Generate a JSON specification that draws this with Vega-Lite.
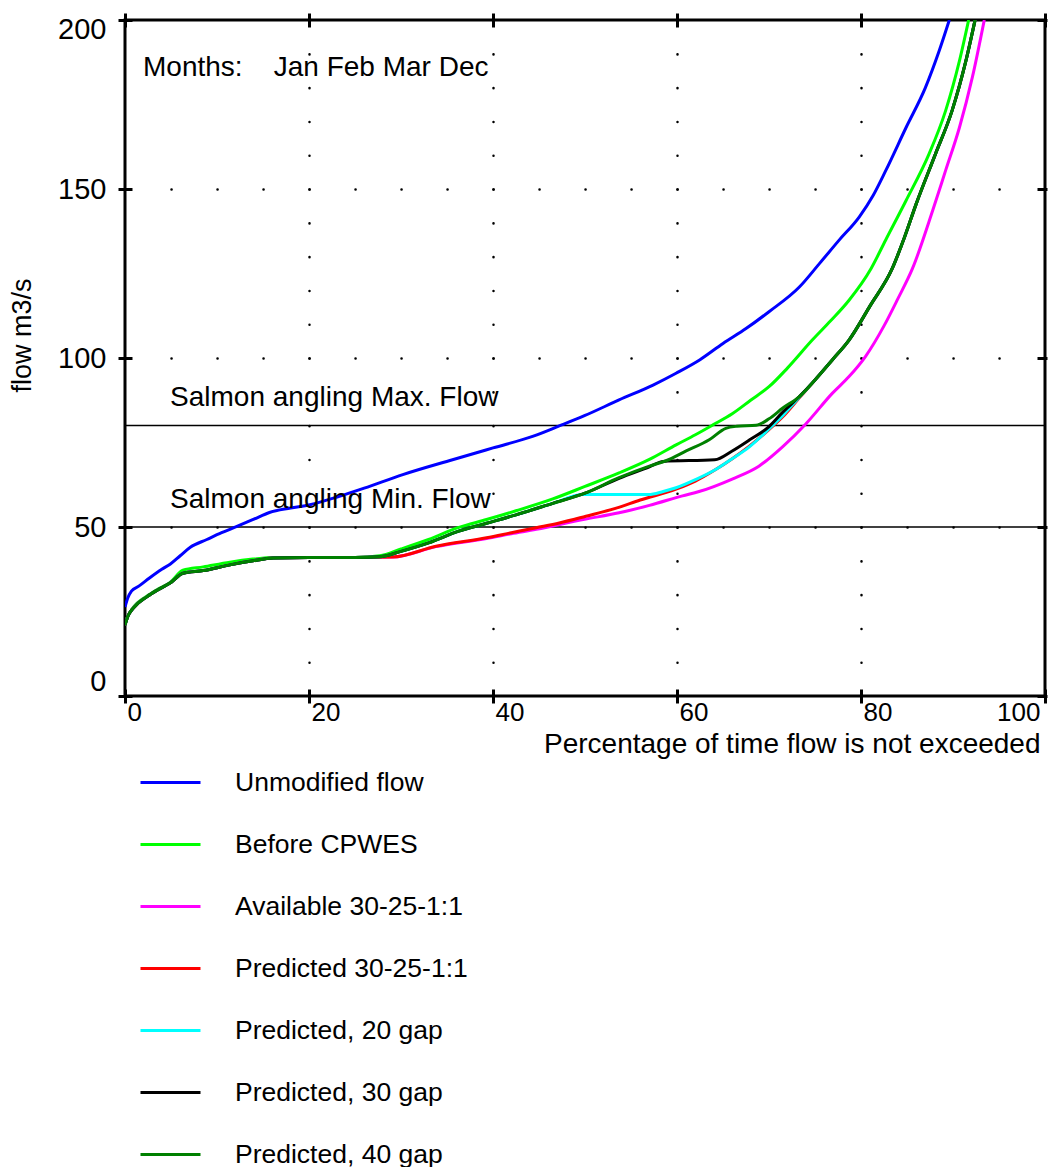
{
  "$schema": "https://vega.github.io/schema/vega-lite/v6.json",
  "width": 920,
  "height": 676,
  "autosize": {"type": "none"},
  "padding": {"left": 125, "top": 20, "right": 4, "bottom": 471},
  "background": "white",
  "config": {
    "font": "Liberation Sans",
    "view": {"stroke": "black", "strokeWidth": 3},
    "axis": {"domain": false, "labelColor": "black", "titleColor": "black", "tickColor": "black", "tickWidth": 3, "grid": false, "labelFont": "Liberation Sans", "titleFont": "Liberation Sans", "titleFontWeight": "normal"}
  },
  "datasets": {
    "curves": [
      {"series": "Unmodified flow", "pct": 0, "flow": 26.3},
      {"series": "Unmodified flow", "pct": 0.3, "flow": 29},
      {"series": "Unmodified flow", "pct": 0.7, "flow": 31},
      {"series": "Unmodified flow", "pct": 1.5, "flow": 32.5},
      {"series": "Unmodified flow", "pct": 2.7, "flow": 35},
      {"series": "Unmodified flow", "pct": 4, "flow": 37.5},
      {"series": "Unmodified flow", "pct": 4.9, "flow": 39},
      {"series": "Unmodified flow", "pct": 6, "flow": 41.5},
      {"series": "Unmodified flow", "pct": 7.1, "flow": 44},
      {"series": "Unmodified flow", "pct": 8.9, "flow": 46.3},
      {"series": "Unmodified flow", "pct": 10.5, "flow": 48.3},
      {"series": "Unmodified flow", "pct": 12.1, "flow": 50.1},
      {"series": "Unmodified flow", "pct": 14, "flow": 52.3},
      {"series": "Unmodified flow", "pct": 15.7, "flow": 54.3},
      {"series": "Unmodified flow", "pct": 18, "flow": 55.6},
      {"series": "Unmodified flow", "pct": 20.1, "flow": 56.6},
      {"series": "Unmodified flow", "pct": 23.3, "flow": 59.1},
      {"series": "Unmodified flow", "pct": 26, "flow": 61.5},
      {"series": "Unmodified flow", "pct": 30.2, "flow": 65.5},
      {"series": "Unmodified flow", "pct": 35.6, "flow": 69.9},
      {"series": "Unmodified flow", "pct": 40, "flow": 73.4},
      {"series": "Unmodified flow", "pct": 44.3, "flow": 76.8},
      {"series": "Unmodified flow", "pct": 47.2, "flow": 79.9},
      {"series": "Unmodified flow", "pct": 50, "flow": 83},
      {"series": "Unmodified flow", "pct": 53.7, "flow": 87.6},
      {"series": "Unmodified flow", "pct": 57.4, "flow": 92},
      {"series": "Unmodified flow", "pct": 59.9, "flow": 95.5},
      {"series": "Unmodified flow", "pct": 62.5, "flow": 99.5},
      {"series": "Unmodified flow", "pct": 65, "flow": 104.3},
      {"series": "Unmodified flow", "pct": 67.5, "flow": 108.7},
      {"series": "Unmodified flow", "pct": 70, "flow": 113.7},
      {"series": "Unmodified flow", "pct": 73.3, "flow": 121},
      {"series": "Unmodified flow", "pct": 75.5, "flow": 128},
      {"series": "Unmodified flow", "pct": 77.6, "flow": 134.8},
      {"series": "Unmodified flow", "pct": 79.8, "flow": 141.7},
      {"series": "Unmodified flow", "pct": 81.3, "flow": 148},
      {"series": "Unmodified flow", "pct": 82.7, "flow": 155.5},
      {"series": "Unmodified flow", "pct": 84.9, "flow": 168.2},
      {"series": "Unmodified flow", "pct": 87, "flow": 180},
      {"series": "Unmodified flow", "pct": 88.5, "flow": 190.9},
      {"series": "Unmodified flow", "pct": 89.6, "flow": 200},

      {"series": "Before CPWES", "pct": 0, "flow": 21},
      {"series": "Before CPWES", "pct": 0.3, "flow": 23.5},
      {"series": "Before CPWES", "pct": 0.9, "flow": 26.2},
      {"series": "Before CPWES", "pct": 2.4, "flow": 29.6},
      {"series": "Before CPWES", "pct": 3.5, "flow": 31.5},
      {"series": "Before CPWES", "pct": 4.9, "flow": 33.6},
      {"series": "Before CPWES", "pct": 6.3, "flow": 37.2},
      {"series": "Before CPWES", "pct": 8.5, "flow": 38.2},
      {"series": "Before CPWES", "pct": 11.4, "flow": 39.6},
      {"series": "Before CPWES", "pct": 13.9, "flow": 40.5},
      {"series": "Before CPWES", "pct": 16.1, "flow": 41},
      {"series": "Before CPWES", "pct": 20, "flow": 41},
      {"series": "Before CPWES", "pct": 25, "flow": 41},
      {"series": "Before CPWES", "pct": 27.7, "flow": 41.5},
      {"series": "Before CPWES", "pct": 30, "flow": 43.5},
      {"series": "Before CPWES", "pct": 33, "flow": 46.3},
      {"series": "Before CPWES", "pct": 36.2, "flow": 49.8},
      {"series": "Before CPWES", "pct": 39.3, "flow": 52.2},
      {"series": "Before CPWES", "pct": 42.5, "flow": 54.8},
      {"series": "Before CPWES", "pct": 46.5, "flow": 58.3},
      {"series": "Before CPWES", "pct": 50, "flow": 62},
      {"series": "Before CPWES", "pct": 53.7, "flow": 66},
      {"series": "Before CPWES", "pct": 57, "flow": 70},
      {"series": "Before CPWES", "pct": 59.9, "flow": 74.3},
      {"series": "Before CPWES", "pct": 62, "flow": 77.3},
      {"series": "Before CPWES", "pct": 63.9, "flow": 80.2},
      {"series": "Before CPWES", "pct": 66, "flow": 83.5},
      {"series": "Before CPWES", "pct": 68, "flow": 87.5},
      {"series": "Before CPWES", "pct": 70, "flow": 91.5},
      {"series": "Before CPWES", "pct": 72, "flow": 97},
      {"series": "Before CPWES", "pct": 74.7, "flow": 105.3},
      {"series": "Before CPWES", "pct": 76.7, "flow": 111},
      {"series": "Before CPWES", "pct": 78.7, "flow": 117.1},
      {"series": "Before CPWES", "pct": 81.1, "flow": 126.5},
      {"series": "Before CPWES", "pct": 82.7, "flow": 135},
      {"series": "Before CPWES", "pct": 84.9, "flow": 146.6},
      {"series": "Before CPWES", "pct": 87.4, "flow": 160.4},
      {"series": "Before CPWES", "pct": 89.2, "flow": 173.2},
      {"series": "Before CPWES", "pct": 90.7, "flow": 187.9},
      {"series": "Before CPWES", "pct": 91.7, "flow": 200},

      {"series": "Available 30-25-1:1", "pct": 0, "flow": 21},
      {"series": "Available 30-25-1:1", "pct": 0.3, "flow": 23.5},
      {"series": "Available 30-25-1:1", "pct": 0.9, "flow": 26},
      {"series": "Available 30-25-1:1", "pct": 2.4, "flow": 29.4},
      {"series": "Available 30-25-1:1", "pct": 3.5, "flow": 31.3},
      {"series": "Available 30-25-1:1", "pct": 4.9, "flow": 33.4},
      {"series": "Available 30-25-1:1", "pct": 6.3, "flow": 36.3},
      {"series": "Available 30-25-1:1", "pct": 8.5, "flow": 37.1},
      {"series": "Available 30-25-1:1", "pct": 11.4, "flow": 38.8},
      {"series": "Available 30-25-1:1", "pct": 13.9, "flow": 40},
      {"series": "Available 30-25-1:1", "pct": 16.1, "flow": 40.8},
      {"series": "Available 30-25-1:1", "pct": 20, "flow": 41},
      {"series": "Available 30-25-1:1", "pct": 25, "flow": 41},
      {"series": "Available 30-25-1:1", "pct": 29.1, "flow": 41.1},
      {"series": "Available 30-25-1:1", "pct": 33.8, "flow": 44.2},
      {"series": "Available 30-25-1:1", "pct": 39.3, "flow": 46.6},
      {"series": "Available 30-25-1:1", "pct": 42, "flow": 48},
      {"series": "Available 30-25-1:1", "pct": 44.7, "flow": 49.3},
      {"series": "Available 30-25-1:1", "pct": 49.8, "flow": 52.2},
      {"series": "Available 30-25-1:1", "pct": 53.7, "flow": 54.2},
      {"series": "Available 30-25-1:1", "pct": 57, "flow": 56.4},
      {"series": "Available 30-25-1:1", "pct": 60.6, "flow": 59.2},
      {"series": "Available 30-25-1:1", "pct": 62.4, "flow": 60.5},
      {"series": "Available 30-25-1:1", "pct": 66, "flow": 64.2},
      {"series": "Available 30-25-1:1", "pct": 68.9, "flow": 68},
      {"series": "Available 30-25-1:1", "pct": 71.5, "flow": 73.8},
      {"series": "Available 30-25-1:1", "pct": 74, "flow": 80.5},
      {"series": "Available 30-25-1:1", "pct": 76.9, "flow": 89.6},
      {"series": "Available 30-25-1:1", "pct": 78.7, "flow": 94.5},
      {"series": "Available 30-25-1:1", "pct": 80.5, "flow": 100.5},
      {"series": "Available 30-25-1:1", "pct": 82.5, "flow": 109.5},
      {"series": "Available 30-25-1:1", "pct": 84, "flow": 117.5},
      {"series": "Available 30-25-1:1", "pct": 85.6, "flow": 126.5},
      {"series": "Available 30-25-1:1", "pct": 87.8, "flow": 143.7},
      {"series": "Available 30-25-1:1", "pct": 89.2, "flow": 155.5},
      {"series": "Available 30-25-1:1", "pct": 90.7, "flow": 168.2},
      {"series": "Available 30-25-1:1", "pct": 92.1, "flow": 183},
      {"series": "Available 30-25-1:1", "pct": 93.4, "flow": 200},

      {"series": "Predicted 30-25-1:1", "pct": 0, "flow": 21},
      {"series": "Predicted 30-25-1:1", "pct": 0.3, "flow": 23.5},
      {"series": "Predicted 30-25-1:1", "pct": 0.9, "flow": 26},
      {"series": "Predicted 30-25-1:1", "pct": 2.4, "flow": 29.4},
      {"series": "Predicted 30-25-1:1", "pct": 3.5, "flow": 31.3},
      {"series": "Predicted 30-25-1:1", "pct": 4.9, "flow": 33.4},
      {"series": "Predicted 30-25-1:1", "pct": 6.3, "flow": 36.3},
      {"series": "Predicted 30-25-1:1", "pct": 8.5, "flow": 37.1},
      {"series": "Predicted 30-25-1:1", "pct": 11.4, "flow": 38.8},
      {"series": "Predicted 30-25-1:1", "pct": 13.9, "flow": 40},
      {"series": "Predicted 30-25-1:1", "pct": 16.1, "flow": 40.8},
      {"series": "Predicted 30-25-1:1", "pct": 20, "flow": 41},
      {"series": "Predicted 30-25-1:1", "pct": 25, "flow": 41},
      {"series": "Predicted 30-25-1:1", "pct": 29.1, "flow": 41.1},
      {"series": "Predicted 30-25-1:1", "pct": 33.8, "flow": 44.3},
      {"series": "Predicted 30-25-1:1", "pct": 39.3, "flow": 46.8},
      {"series": "Predicted 30-25-1:1", "pct": 42, "flow": 48.3},
      {"series": "Predicted 30-25-1:1", "pct": 44.7, "flow": 49.8},
      {"series": "Predicted 30-25-1:1", "pct": 47.2, "flow": 51.2},
      {"series": "Predicted 30-25-1:1", "pct": 50.1, "flow": 53.2},
      {"series": "Predicted 30-25-1:1", "pct": 53.4, "flow": 55.6},
      {"series": "Predicted 30-25-1:1", "pct": 56, "flow": 58},
      {"series": "Predicted 30-25-1:1", "pct": 59.9, "flow": 61.2},
      {"series": "Predicted 30-25-1:1", "pct": 62, "flow": 63.6},
      {"series": "Predicted 30-25-1:1", "pct": 64.2, "flow": 67},
      {"series": "Predicted 30-25-1:1", "pct": 66, "flow": 70.2},
      {"series": "Predicted 30-25-1:1", "pct": 67.9, "flow": 74},
      {"series": "Predicted 30-25-1:1", "pct": 70, "flow": 78.8},
      {"series": "Predicted 30-25-1:1", "pct": 71.5, "flow": 82.6},
      {"series": "Predicted 30-25-1:1", "pct": 73.3, "flow": 88.2},
      {"series": "Predicted 30-25-1:1", "pct": 75, "flow": 93.5},
      {"series": "Predicted 30-25-1:1", "pct": 76.9, "flow": 99.5},
      {"series": "Predicted 30-25-1:1", "pct": 78.7, "flow": 105.3},
      {"series": "Predicted 30-25-1:1", "pct": 81, "flow": 115.5},
      {"series": "Predicted 30-25-1:1", "pct": 83.4, "flow": 126.5},
      {"series": "Predicted 30-25-1:1", "pct": 84.7, "flow": 135.5},
      {"series": "Predicted 30-25-1:1", "pct": 86, "flow": 145.6},
      {"series": "Predicted 30-25-1:1", "pct": 88.1, "flow": 160.4},
      {"series": "Predicted 30-25-1:1", "pct": 89.9, "flow": 173.2},
      {"series": "Predicted 30-25-1:1", "pct": 91.4, "flow": 187.9},
      {"series": "Predicted 30-25-1:1", "pct": 92.4, "flow": 200},

      {"series": "Predicted, 20 gap", "pct": 0, "flow": 21},
      {"series": "Predicted, 20 gap", "pct": 0.3, "flow": 23.5},
      {"series": "Predicted, 20 gap", "pct": 0.9, "flow": 26},
      {"series": "Predicted, 20 gap", "pct": 2.4, "flow": 29.4},
      {"series": "Predicted, 20 gap", "pct": 3.5, "flow": 31.3},
      {"series": "Predicted, 20 gap", "pct": 4.9, "flow": 33.4},
      {"series": "Predicted, 20 gap", "pct": 6.3, "flow": 36.3},
      {"series": "Predicted, 20 gap", "pct": 8.5, "flow": 37.1},
      {"series": "Predicted, 20 gap", "pct": 11.4, "flow": 38.8},
      {"series": "Predicted, 20 gap", "pct": 13.9, "flow": 40},
      {"series": "Predicted, 20 gap", "pct": 16.1, "flow": 40.8},
      {"series": "Predicted, 20 gap", "pct": 20, "flow": 41},
      {"series": "Predicted, 20 gap", "pct": 25, "flow": 41},
      {"series": "Predicted, 20 gap", "pct": 27.7, "flow": 41.2},
      {"series": "Predicted, 20 gap", "pct": 30, "flow": 42.8},
      {"series": "Predicted, 20 gap", "pct": 33, "flow": 45.3},
      {"series": "Predicted, 20 gap", "pct": 36.2, "flow": 48.7},
      {"series": "Predicted, 20 gap", "pct": 39.3, "flow": 51.1},
      {"series": "Predicted, 20 gap", "pct": 42.5, "flow": 53.6},
      {"series": "Predicted, 20 gap", "pct": 46.5, "flow": 57},
      {"series": "Predicted, 20 gap", "pct": 49.8, "flow": 59.6},
      {"series": "Predicted, 20 gap", "pct": 56.9, "flow": 59.6},
      {"series": "Predicted, 20 gap", "pct": 58.5, "flow": 60.5},
      {"series": "Predicted, 20 gap", "pct": 59.9, "flow": 61.6},
      {"series": "Predicted, 20 gap", "pct": 62, "flow": 64},
      {"series": "Predicted, 20 gap", "pct": 64.2, "flow": 67},
      {"series": "Predicted, 20 gap", "pct": 66, "flow": 70.2},
      {"series": "Predicted, 20 gap", "pct": 67.9, "flow": 73.8},
      {"series": "Predicted, 20 gap", "pct": 70, "flow": 79},
      {"series": "Predicted, 20 gap", "pct": 71.5, "flow": 83},
      {"series": "Predicted, 20 gap", "pct": 73.3, "flow": 88.4},
      {"series": "Predicted, 20 gap", "pct": 75, "flow": 93.5},
      {"series": "Predicted, 20 gap", "pct": 76.9, "flow": 99.5},
      {"series": "Predicted, 20 gap", "pct": 78.7, "flow": 105.3},
      {"series": "Predicted, 20 gap", "pct": 81, "flow": 115.5},
      {"series": "Predicted, 20 gap", "pct": 83.4, "flow": 126.5},
      {"series": "Predicted, 20 gap", "pct": 84.7, "flow": 135.5},
      {"series": "Predicted, 20 gap", "pct": 86, "flow": 145.6},
      {"series": "Predicted, 20 gap", "pct": 88.1, "flow": 160.4},
      {"series": "Predicted, 20 gap", "pct": 89.9, "flow": 173.2},
      {"series": "Predicted, 20 gap", "pct": 91.4, "flow": 187.9},
      {"series": "Predicted, 20 gap", "pct": 92.4, "flow": 200},

      {"series": "Predicted, 30 gap", "pct": 0, "flow": 21},
      {"series": "Predicted, 30 gap", "pct": 0.3, "flow": 23.5},
      {"series": "Predicted, 30 gap", "pct": 0.9, "flow": 26},
      {"series": "Predicted, 30 gap", "pct": 2.4, "flow": 29.4},
      {"series": "Predicted, 30 gap", "pct": 3.5, "flow": 31.3},
      {"series": "Predicted, 30 gap", "pct": 4.9, "flow": 33.4},
      {"series": "Predicted, 30 gap", "pct": 6.3, "flow": 36.3},
      {"series": "Predicted, 30 gap", "pct": 8.5, "flow": 37.1},
      {"series": "Predicted, 30 gap", "pct": 11.4, "flow": 38.8},
      {"series": "Predicted, 30 gap", "pct": 13.9, "flow": 40},
      {"series": "Predicted, 30 gap", "pct": 16.1, "flow": 40.8},
      {"series": "Predicted, 30 gap", "pct": 20, "flow": 41},
      {"series": "Predicted, 30 gap", "pct": 25, "flow": 41},
      {"series": "Predicted, 30 gap", "pct": 27.7, "flow": 41.2},
      {"series": "Predicted, 30 gap", "pct": 30, "flow": 42.8},
      {"series": "Predicted, 30 gap", "pct": 33, "flow": 45.3},
      {"series": "Predicted, 30 gap", "pct": 36.2, "flow": 48.7},
      {"series": "Predicted, 30 gap", "pct": 39.3, "flow": 51.1},
      {"series": "Predicted, 30 gap", "pct": 42.5, "flow": 53.6},
      {"series": "Predicted, 30 gap", "pct": 46.5, "flow": 57},
      {"series": "Predicted, 30 gap", "pct": 50, "flow": 60},
      {"series": "Predicted, 30 gap", "pct": 53.7, "flow": 64.4},
      {"series": "Predicted, 30 gap", "pct": 57, "flow": 67.8},
      {"series": "Predicted, 30 gap", "pct": 58.5, "flow": 69.4},
      {"series": "Predicted, 30 gap", "pct": 64.1, "flow": 69.9},
      {"series": "Predicted, 30 gap", "pct": 66, "flow": 72.5},
      {"series": "Predicted, 30 gap", "pct": 67.9, "flow": 75.8},
      {"series": "Predicted, 30 gap", "pct": 70, "flow": 79.7},
      {"series": "Predicted, 30 gap", "pct": 71.5, "flow": 84},
      {"series": "Predicted, 30 gap", "pct": 73.3, "flow": 88.6},
      {"series": "Predicted, 30 gap", "pct": 75, "flow": 93.5},
      {"series": "Predicted, 30 gap", "pct": 76.9, "flow": 99.5},
      {"series": "Predicted, 30 gap", "pct": 78.7, "flow": 105.3},
      {"series": "Predicted, 30 gap", "pct": 81, "flow": 115.5},
      {"series": "Predicted, 30 gap", "pct": 83.4, "flow": 126.5},
      {"series": "Predicted, 30 gap", "pct": 84.7, "flow": 135.5},
      {"series": "Predicted, 30 gap", "pct": 86, "flow": 145.6},
      {"series": "Predicted, 30 gap", "pct": 88.1, "flow": 160.4},
      {"series": "Predicted, 30 gap", "pct": 89.9, "flow": 173.2},
      {"series": "Predicted, 30 gap", "pct": 91.4, "flow": 187.9},
      {"series": "Predicted, 30 gap", "pct": 92.4, "flow": 200},

      {"series": "Predicted, 40 gap", "pct": 0, "flow": 21},
      {"series": "Predicted, 40 gap", "pct": 0.3, "flow": 23.5},
      {"series": "Predicted, 40 gap", "pct": 0.9, "flow": 26},
      {"series": "Predicted, 40 gap", "pct": 2.4, "flow": 29.4},
      {"series": "Predicted, 40 gap", "pct": 3.5, "flow": 31.3},
      {"series": "Predicted, 40 gap", "pct": 4.9, "flow": 33.4},
      {"series": "Predicted, 40 gap", "pct": 6.3, "flow": 36.3},
      {"series": "Predicted, 40 gap", "pct": 8.5, "flow": 37.1},
      {"series": "Predicted, 40 gap", "pct": 11.4, "flow": 38.8},
      {"series": "Predicted, 40 gap", "pct": 13.9, "flow": 40},
      {"series": "Predicted, 40 gap", "pct": 16.1, "flow": 40.8},
      {"series": "Predicted, 40 gap", "pct": 20, "flow": 41},
      {"series": "Predicted, 40 gap", "pct": 25, "flow": 41},
      {"series": "Predicted, 40 gap", "pct": 27.7, "flow": 41.2},
      {"series": "Predicted, 40 gap", "pct": 30, "flow": 42.8},
      {"series": "Predicted, 40 gap", "pct": 33, "flow": 45.3},
      {"series": "Predicted, 40 gap", "pct": 36.2, "flow": 48.7},
      {"series": "Predicted, 40 gap", "pct": 39.3, "flow": 51.1},
      {"series": "Predicted, 40 gap", "pct": 42.5, "flow": 53.6},
      {"series": "Predicted, 40 gap", "pct": 46.5, "flow": 57},
      {"series": "Predicted, 40 gap", "pct": 50, "flow": 60},
      {"series": "Predicted, 40 gap", "pct": 53.7, "flow": 64.6},
      {"series": "Predicted, 40 gap", "pct": 57, "flow": 68},
      {"series": "Predicted, 40 gap", "pct": 58.8, "flow": 69.6},
      {"series": "Predicted, 40 gap", "pct": 61, "flow": 72.5},
      {"series": "Predicted, 40 gap", "pct": 63.5, "flow": 75.8},
      {"series": "Predicted, 40 gap", "pct": 65.3, "flow": 79.2},
      {"series": "Predicted, 40 gap", "pct": 66.5, "flow": 79.8},
      {"series": "Predicted, 40 gap", "pct": 68.6, "flow": 80.1},
      {"series": "Predicted, 40 gap", "pct": 70, "flow": 82},
      {"series": "Predicted, 40 gap", "pct": 71.5, "flow": 85.2},
      {"series": "Predicted, 40 gap", "pct": 73.3, "flow": 88.6},
      {"series": "Predicted, 40 gap", "pct": 75, "flow": 93.5},
      {"series": "Predicted, 40 gap", "pct": 76.9, "flow": 99.5},
      {"series": "Predicted, 40 gap", "pct": 78.7, "flow": 105.3},
      {"series": "Predicted, 40 gap", "pct": 81, "flow": 115.5},
      {"series": "Predicted, 40 gap", "pct": 83.4, "flow": 126.5},
      {"series": "Predicted, 40 gap", "pct": 84.7, "flow": 135.5},
      {"series": "Predicted, 40 gap", "pct": 86, "flow": 145.6},
      {"series": "Predicted, 40 gap", "pct": 88.1, "flow": 160.4},
      {"series": "Predicted, 40 gap", "pct": 89.9, "flow": 173.2},
      {"series": "Predicted, 40 gap", "pct": 91.4, "flow": 187.9},
      {"series": "Predicted, 40 gap", "pct": 92.4, "flow": 200}
    ]
  },
  "resolve": {"axis": {"x": "independent", "y": "independent"}},
  "layer": [
    {
      "data": {"values": [{}]},
      "mark": {"type": "rule", "color": "black", "strokeWidth": 1.5},
      "encoding": {"y": {"datum": 80, "type": "quantitative", "axis": null}}
    },
    {
      "data": {"values": [{}]},
      "mark": {"type": "rule", "color": "black", "strokeWidth": 1.5},
      "encoding": {"y": {"datum": 50, "type": "quantitative", "axis": null}}
    },
    {
      "data": {"name": "curves"},
      "mark": {"type": "line", "strokeWidth": 3, "clip": true, "interpolate": "monotone"},
      "encoding": {
        "x": {
          "field": "pct", "type": "quantitative",
          "scale": {"domain": [0, 100], "nice": false, "zero": false},
          "axis": {
            "orient": "bottom", "values": [0, 20, 40, 60, 80, 100],
            "title": "Percentage of time flow is not exceeded",
            "titleFontSize": 28, "titleX": 915, "titleY": 63, "titleAlign": "right", "titleBaseline": "alphabetic",
            "labelFontSize": 26,
            "labelAlign": {"condition": {"test": "datum.value === 100", "value": "right"}, "value": "left"},
            "labelOffset": {"condition": {"test": "datum.value === 100", "value": -5}, "value": 2},
            "labelFlush": false, "labelPadding": -4, "labelBaseline": "top",
            "tickSize": 14, "offset": -7,
            "grid": true, "gridDash": [0.1, 33.7], "gridCap": "round", "gridWidth": 2.5,
            "gridColor": {"condition": {"test": "datum.value === 0 || datum.value === 100", "value": "transparent"}, "value": "black"}
          }
        },
        "y": {
          "field": "flow", "type": "quantitative",
          "scale": {"domain": [0, 200], "nice": false},
          "axis": {
            "orient": "left", "values": [0, 50, 100, 150, 200],
            "title": "flow m3/s",
            "titleFontSize": 27, "titleX": -102, "titleY": 315, "titleAlign": "center", "titleBaseline": "alphabetic", "titleAngle": -90,
            "labelFontSize": 29, "labelFlush": false, "labelPadding": 12,
            "labelBaseline": {"condition": [{"test": "datum.value === 200", "value": "top"}, {"test": "datum.value === 0", "value": "bottom"}], "value": "middle"},
            "labelOffset": {"condition": [{"test": "datum.value === 200", "value": -5}, {"test": "datum.value === 0", "value": 0}], "value": 0},
            "tickSize": 14, "offset": -7,
            "grid": true, "gridDash": [0.1, 45.9], "gridCap": "round", "gridWidth": 2.5,
            "gridColor": {"condition": {"test": "datum.value === 0 || datum.value === 200", "value": "transparent"}, "value": "black"}
          }
        },
        "color": {
          "field": "series", "type": "nominal",
          "scale": {
            "domain": ["Unmodified flow", "Before CPWES", "Available 30-25-1:1", "Predicted 30-25-1:1", "Predicted, 20 gap", "Predicted, 30 gap", "Predicted, 40 gap"],
            "range": ["#0000ff", "#00ff00", "#ff00ff", "#ff0000", "#00ffff", "#000000", "#008000"]
          },
          "legend": {
            "orient": "none", "legendX": 14, "legendY": 731, "title": null,
            "symbolType": "stroke", "symbolSize": 3600, "symbolStrokeWidth": 3,
            "labelFontSize": 26.5, "labelFont": "Liberation Sans", "labelColor": "black",
            "labelOffset": 33, "rowPadding": 17, "labelLimit": 0, "padding": 0
          }
        }
      }
    },
    {
      "data": {"values": [{}]},
      "mark": {"type": "text", "text": "Months:\u00a0\u00a0\u00a0 Jan Feb Mar Dec", "align": "left", "baseline": "alphabetic", "fontSize": 28, "font": "Liberation Sans", "color": "black"},
      "encoding": {
        "x": {"datum": 1.96, "type": "quantitative", "axis": {"orient": "top", "values": [0, 20, 40, 60, 80, 100], "labels": false, "title": null, "tickSize": 14, "offset": -7, "grid": false, "domain": false}},
        "y": {"datum": 183.4, "type": "quantitative", "axis": {"orient": "right", "values": [0, 50, 100, 150, 200], "labels": false, "title": null, "tickSize": 10, "offset": -8, "grid": false, "domain": false}}
      }
    },
    {
      "data": {"values": [{}]},
      "mark": {"type": "text", "text": "Salmon angling Max. Flow", "align": "left", "baseline": "alphabetic", "fontSize": 28, "font": "Liberation Sans", "color": "black"},
      "encoding": {
        "x": {"datum": 4.9, "type": "quantitative", "axis": null},
        "y": {"datum": 85.8, "type": "quantitative", "axis": null}
      }
    },
    {
      "data": {"values": [{}]},
      "mark": {"type": "text", "text": "Salmon angling Min. Flow", "align": "left", "baseline": "alphabetic", "fontSize": 28, "font": "Liberation Sans", "color": "black"},
      "encoding": {
        "x": {"datum": 4.9, "type": "quantitative", "axis": null},
        "y": {"datum": 55.6, "type": "quantitative", "axis": null}
      }
    }
  ]
}
